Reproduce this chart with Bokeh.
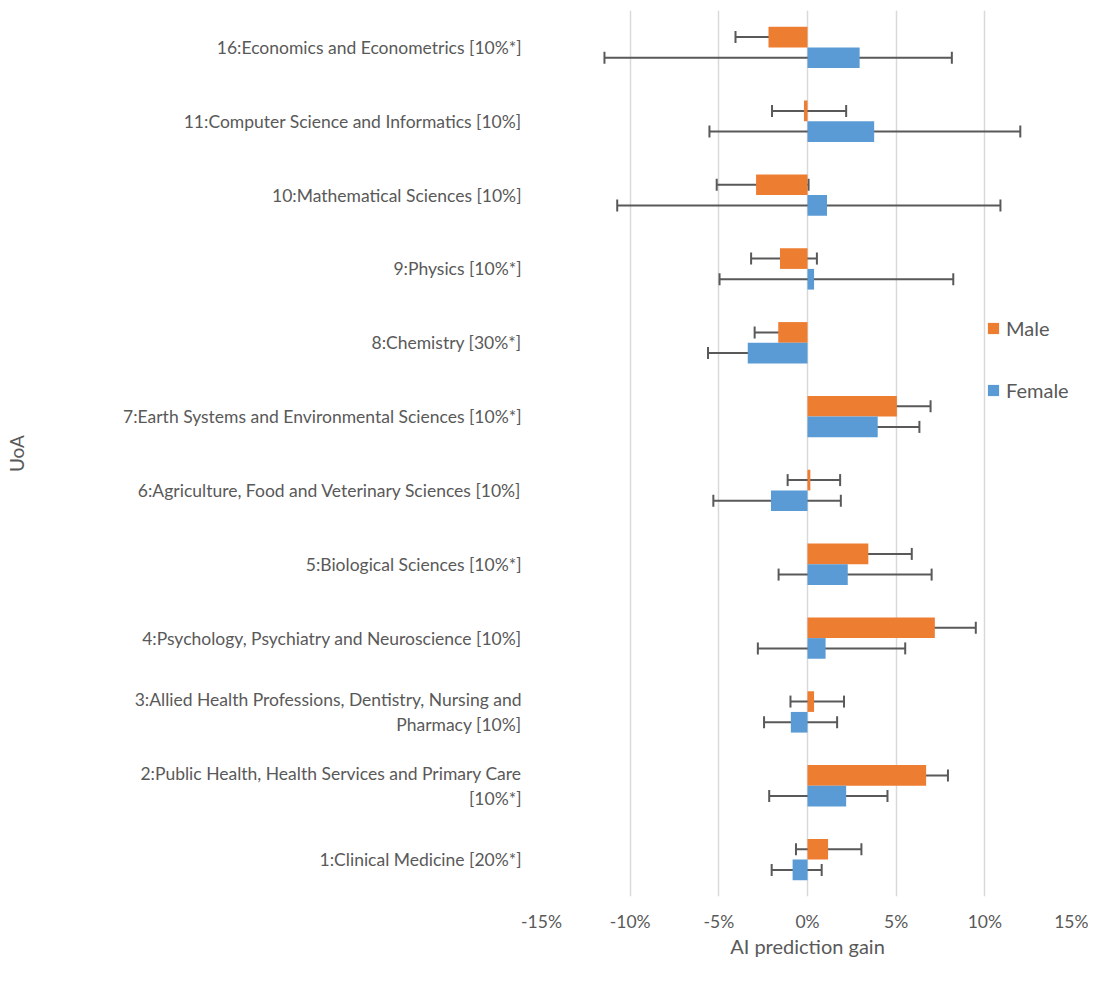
from bokeh.plotting import figure
from bokeh.models import (ColumnDataSource, FactorRange, Range1d, Whisker, TeeHead,
                          Legend, LegendItem, PrintfTickFormatter, FixedTicker)
from bokeh.transform import dodge
from bokeh.embed import file_html
from bokeh.resources import INLINE

# ---- data (percent) ----
categories = [
    "1:Clinical Medicine [20%*]",
    "2:Public Health, Health Services and Primary Care\n[10%*]",
    "3:Allied Health Professions, Dentistry, Nursing and\nPharmacy [10%]",
    "4:Psychology, Psychiatry and Neuroscience [10%]",
    "5:Biological Sciences [10%*]",
    "6:Agriculture, Food and Veterinary Sciences [10%]",
    "7:Earth Systems and Environmental Sciences [10%*]",
    "8:Chemistry [30%*]",
    "9:Physics [10%*]",
    "10:Mathematical Sciences [10%]",
    "11:Computer Science and Informatics [10%]",
    "16:Economics and Econometrics [10%*]",
]
male = [1.16, 6.69, 0.37, 7.18, 3.43, 0.16, 5.04, -1.65, -1.55, -2.9, -0.2, -2.2]
male_lo = [-0.65, 5.24, -0.96, 4.65, 1.35, -1.12, 3.2, -2.98, -3.18, -5.12, -2.0, -4.06]
male_hi = [3.04, 7.92, 2.06, 9.49, 5.88, 1.84, 6.94, -0.16, 0.53, 0.06, 2.18, -0.65]
female = [-0.84, 2.18, -0.94, 1.02, 2.27, -2.06, 3.96, -3.37, 0.37, 1.1, 3.76, 2.94]
female_lo = [-2.02, -2.16, -2.45, -2.8, -1.63, -5.31, 0.41, -5.61, -4.96, -10.73, -5.53, -11.45]
female_hi = [0.8, 4.51, 1.67, 5.51, 7.0, 1.88, 6.31, -1.61, 8.22, 10.88, 12.0, 8.14]
x_ticks = [-15, -10, -5, 0, 5, 10, 15]
x_title = "AI prediction gain"
y_title = "UoA"

MALE_C = "#ED7D31"
FEMALE_C = "#5B9BD5"
TXT = "#595959"
FONT = "Lato"

src = ColumnDataSource(dict(cat=categories, male=male, male_lo=male_lo, male_hi=male_hi,
                            female=female, female_lo=female_lo, female_hi=female_hi))

p = figure(width=1088, height=960, output_backend="svg", toolbar_location=None,
           y_range=FactorRange(*categories, range_padding=0),
           x_range=Range1d(-15, 15),
           min_border_left=541, min_border_right=15, min_border_top=10, min_border_bottom=63)
p.outline_line_color = None

off = 0.14
bh = 0.28
rm = p.hbar(y=dodge("cat", off, range=p.y_range), left=0, right="male", height=bh,
            fill_color=MALE_C, line_color=None, source=src)
rf = p.hbar(y=dodge("cat", -off, range=p.y_range), left=0, right="female", height=bh,
            fill_color=FEMALE_C, line_color=None, source=src)

for lo, hi, o in (("male_lo", "male_hi", off), ("female_lo", "female_hi", -off)):
    w = Whisker(base=dodge("cat", o, range=p.y_range), lower=lo, upper=hi, dimension="width",
                source=src, line_color=TXT, line_width=2,
                lower_head=TeeHead(size=12, line_color=TXT, line_width=2),
                upper_head=TeeHead(size=12, line_color=TXT, line_width=2))
    p.add_layout(w)

# axes
p.xaxis.ticker = FixedTicker(ticks=x_ticks)
p.xaxis.formatter = PrintfTickFormatter(format="%d%%")
p.xaxis.axis_line_color = None
p.xaxis.major_tick_line_color = None
p.xaxis.minor_tick_line_color = None
p.xaxis.major_label_standoff = 8
p.xaxis.major_label_text_font = FONT
p.xaxis.major_label_text_font_size = "17.5px"
p.xaxis.major_label_text_color = TXT
p.xaxis.axis_label = x_title
p.xaxis.axis_label_text_font = FONT
p.xaxis.axis_label_text_font_size = "20px"
p.xaxis.axis_label_text_font_style = "normal"
p.xaxis.axis_label_text_color = TXT
p.xaxis.axis_label_standoff = -1

p.yaxis.axis_line_color = None
p.yaxis.major_tick_line_color = None
p.yaxis.minor_tick_line_color = None
p.yaxis.major_label_standoff = 14
p.yaxis.major_label_text_font = FONT
p.yaxis.major_label_text_font_size = "17.5px"
p.yaxis.major_label_text_color = TXT
p.yaxis.axis_label = y_title
p.yaxis.axis_label_text_font = FONT
p.yaxis.axis_label_text_font_size = "19px"
p.yaxis.axis_label_text_font_style = "normal"
p.yaxis.axis_label_text_color = TXT
p.yaxis.axis_label_standoff = 92

p.ygrid.grid_line_color = None
p.xgrid.grid_line_color = "#D9D9D9"
p.xgrid.grid_line_width = 1.5

legend = Legend(items=[LegendItem(label="Male", renderers=[rm]),
                       LegendItem(label="Female", renderers=[rf])],
                location=(445, 494), orientation="vertical",
                glyph_width=14, glyph_height=14, label_height=20,
                spacing=38, padding=20, margin=0,
                label_text_font=FONT, label_text_font_size="20px", label_text_color=TXT,
                background_fill_color="white", background_fill_alpha=1.0,
                border_line_color=None, label_standoff=6)
p.add_layout(legend)

open("out.html", "w").write(file_html(p, INLINE))
